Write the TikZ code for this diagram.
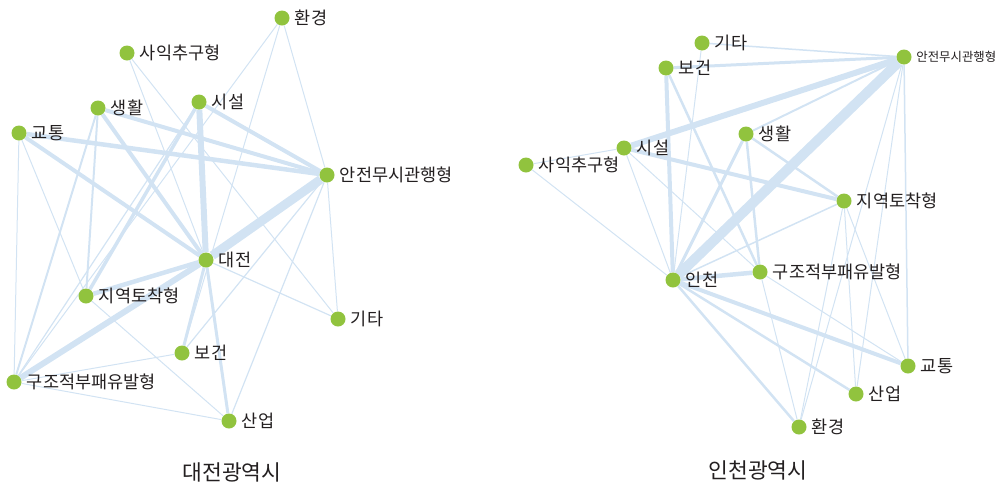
\documentclass[tikz,border=0pt]{standalone}
\usepackage{fontspec}
\setmainfont{Noto Sans CJK KR}
\usetikzlibrary{backgrounds}
\definecolor{dotgreen}{RGB}{145,195,62}
\definecolor{linkblue}{RGB}{210,227,243}
\definecolor{labelgray}{RGB}{35,31,32}
\tikzset{
  dot/.style={circle, fill=dotgreen, minimum size=15pt, inner sep=0pt},
  lbl/.style={font=\fontsize{17.5}{18}\selectfont, text=labelgray, inner xsep=5pt, inner ysep=0.5pt},
  smalllbl/.style={font=\fontsize{12.4}{13}\selectfont, text=labelgray, inner xsep=4.5pt, inner ysep=0.5pt},
  link/.style={draw=linkblue, line width=#1},
  link/.default=1pt,
  citytitle/.style={font=\fontsize{21.5}{22}\selectfont, text=labelgray}
}
\begin{document}
\begin{tikzpicture}[x=1pt,y=-1pt]
\useasboundingbox (0,0) rectangle (1004,488);
% Daejeon network
\node[dot, label={[lbl]right:환경}] (Lenv) at (282,18) {};
\node[dot, label={[lbl]right:사익추구형}] (Lprofit) at (127,53) {};
\node[dot, label={[lbl]right:생활}] (Llife) at (98,108) {};
\node[dot, label={[lbl]right:시설}] (Lfac) at (199,102) {};
\node[dot, label={[lbl]right:교통}] (Ltraffic) at (19,133) {};
\node[dot, label={[lbl]right:안전무시관행형}] (Lsafe) at (327,175) {};
\node[dot, label={[lbl]right:대전}] (Lcity) at (206,260) {};
\node[dot, label={[lbl]right:지역토착형}] (Llocal) at (86,296) {};
\node[dot, label={[lbl]right:기타}] (Letc) at (338,319) {};
\node[dot, label={[lbl]right:보건}] (Lhealth) at (182,353) {};
\node[dot, label={[lbl]right:구조적부패유발형}] (Lstruct) at (14,382) {};
\node[dot, label={[lbl]right:산업}] (Lind) at (229,421) {};
\node[citytitle] (Ltitle) at (232,472) {대전광역시};
\begin{scope}[on background layer]
  \draw[link=9pt] (Lcity) -- (Lsafe);
  \draw[link=6pt] (Lcity) -- (Lfac);
  \draw[link=6pt] (Lcity) -- (Lstruct);
  \draw[link=4.5pt] (Lcity) -- (Llocal);
  \draw[link=4.5pt] (Ltraffic) -- (Lsafe);
  \draw[link=4pt] (Ltraffic) -- (Lcity);
  \draw[link=4pt] (Llife) -- (Lsafe);
  \draw[link=4pt] (Llife) -- (Lcity);
  \draw[link=4pt] (Lfac) -- (Lsafe);
  \draw[link=3.5pt] (Lfac) -- (Llocal);
  \draw[link=3pt] (Lcity) -- (Lhealth);
  \draw[link=3pt] (Lcity) -- (Lind);
  \draw[link=2pt] (Llife) -- (Llocal);
  \draw[link=2pt] (Llife) -- (Lstruct);
  \draw[link=1.2pt] (Lfac) -- (Lstruct);
  \draw[link=1.2pt] (Lsafe) -- (Lhealth);
  \draw[link=1.2pt] (Lsafe) -- (Lind);
  \draw[link=1.2pt] (Lcity) -- (Letc);
  \draw[link] (Ltraffic) -- (Lstruct);
  \draw[link] (Ltraffic) -- (Llocal);
  \draw[link] (Lenv) -- (Lstruct);
  \draw[link] (Lenv) -- (Lsafe);
  \draw[link] (Lenv) -- (Lhealth);
  \draw[link] (Lprofit) -- (Lcity);
  \draw[link] (Lprofit) -- (Letc);
  \draw[link] (Lsafe) -- (Letc);
  \draw[link] (Llocal) -- (Lind);
  \draw[link] (Lstruct) -- (Lhealth);
  \draw[link] (Lstruct) -- (Lind);
\end{scope}
% Incheon network
\node[dot, label={[lbl]right:기타}] (Retc) at (702,43) {};
\node[dot, label={[smalllbl]right:안전무시관행형}] (Rsafe) at (904,57) {};
\node[dot, label={[lbl]right:보건}] (Rhealth) at (666,68) {};
\node[dot, label={[lbl]right:생활}] (Rlife) at (746,134) {};
\node[dot, label={[lbl]right:시설}] (Rfac) at (624,148) {};
\node[dot, label={[lbl]right:사익추구형}] (Rprofit) at (526,165) {};
\node[dot, label={[lbl]right:지역토착형}] (Rlocal) at (844,201) {};
\node[dot, label={[lbl]right:구조적부패유발형}] (Rstruct) at (760,272) {};
\node[dot, label={[lbl]right:인천}] (Rcity) at (673,280) {};
\node[dot, label={[lbl]right:교통}] (Rtraffic) at (908,366) {};
\node[dot, label={[lbl]right:산업}] (Rind) at (856,394) {};
\node[dot, label={[lbl]right:환경}] (Renv) at (799,427) {};
\node[citytitle] (Rtitle) at (758,470) {인천광역시};
\begin{scope}[on background layer]
  \draw[link=10pt] (Rcity) -- (Rsafe);
  \draw[link=6pt] (Rfac) -- (Rsafe);
  \draw[link=4.5pt] (Rcity) -- (Rstruct);
  \draw[link=4pt] (Rcity) -- (Rhealth);
  \draw[link=4pt] (Rcity) -- (Rtraffic);
  \draw[link=4pt] (Rfac) -- (Rlocal);
  \draw[link=3pt] (Rhealth) -- (Rsafe);
  \draw[link=3pt] (Rcity) -- (Rlife);
  \draw[link=2.5pt] (Rlife) -- (Rstruct);
  \draw[link=2.5pt] (Rlife) -- (Rlocal);
  \draw[link=2.5pt] (Rhealth) -- (Rstruct);
  \draw[link=2.5pt] (Rcity) -- (Rind);
  \draw[link=2.5pt] (Rcity) -- (Renv);
  \draw[link=2pt] (Rlife) -- (Rsafe);
  \draw[link=1.5pt] (Retc) -- (Rsafe);
  \draw[link=1.5pt] (Rsafe) -- (Rtraffic);
  \draw[link=1.5pt] (Rcity) -- (Rlocal);
  \draw[link] (Rcity) -- (Retc);
  \draw[link] (Rcity) -- (Rfac);
  \draw[link] (Rcity) -- (Rprofit);
  \draw[link] (Rfac) -- (Rprofit);
  \draw[link] (Rfac) -- (Rstruct);
  \draw[link] (Rstruct) -- (Renv);
  \draw[link] (Rstruct) -- (Rtraffic);
  \draw[link] (Rlocal) -- (Renv);
  \draw[link] (Rlocal) -- (Rind);
  \draw[link] (Rlocal) -- (Rtraffic);
  \draw[link] (Rsafe) -- (Rind);
  \draw[link] (Rsafe) -- (Renv);
\end{scope}
\end{tikzpicture}
\end{document}
